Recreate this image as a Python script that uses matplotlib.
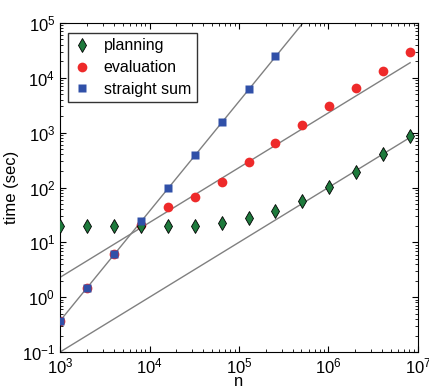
import numpy as np
import matplotlib.pyplot as plt

plt.rcParams['font.family'] = ['Liberation Sans', 'DejaVu Sans']

# problem sizes
n = 1000 * 2.0 ** np.arange(14)
# measured times (sec)
planning = [20, 20, 20, 20, 20, 20, 23, 28, 37, 57, 102, 190, 400, 870]
evaluation = [0.37, 1.5, 6.2, 21, 44, 68, 126, 295, 650, 1380, 3100, 6600, 13500, 29000]
straight = [0.37, 1.5, 6.2, 25, 100, 390, 1550, 6200, 24800]
# reference slopes: c * n^p
plan_fit = (1.0e-4, 1)
eval_fit = (2.3e-3, 1)
straight_fit = (3.7e-7, 2)

fig = plt.figure(figsize=(4.29, 3.87), dpi=100)
ax = fig.add_axes([0.14, 0.0904, 0.834, 0.8502])

for c, p in [plan_fit, eval_fit, straight_fit]:
    ax.plot(n, c * n ** p, color='#808080', lw=1.0, zorder=1)

ax.plot(n, planning, 'd', color='#1e7a3c', mec='black', mew=0.6, ms=7, label='planning', zorder=3)
ax.plot(n, evaluation, 'o', color='#ee2a2a', mec='none', ms=7, label='evaluation', zorder=2)
ax.plot(n[:len(straight)], straight, 's', color='#3050a8', mec='none', ms=6, label='straight sum', zorder=3)

ax.set_xscale('log')
ax.set_yscale('log')
ax.set_xlim(1e3, 1e7)
ax.set_ylim(1e-1, 1e5)
ax.tick_params(which='both', direction='in', top=True, right=True, labelsize=12)
ax.tick_params(which='major', length=4)
ax.tick_params(which='minor', length=2)
ax.set_xlabel('n', fontsize=12, labelpad=-2)
ax.set_ylabel('time (sec)', fontsize=12, labelpad=2)

leg = ax.legend(loc='upper left', fontsize=11.5, frameon=True, fancybox=False,
                edgecolor='black', handlelength=1.0, handletextpad=0.9, borderpad=0.35,
                labelspacing=0.42, borderaxespad=0, bbox_to_anchor=(0.022, 0.97))
leg.get_frame().set_linewidth(1.0)

fig.savefig('out.png', dpi=100)
